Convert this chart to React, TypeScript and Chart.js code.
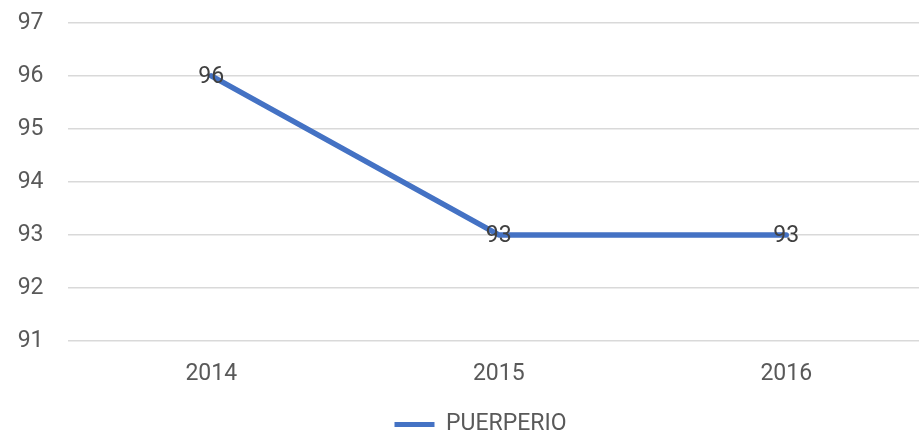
import React, { useEffect, useRef } from "react";
import { Chart, registerables } from "chart.js";

Chart.register(...registerables);

const categories = ["2014", "2015", "2016"];
const seriesLabel = "PUERPERIO";
const seriesValues = [96, 93, 93];
const yMin = 91;
const yMax = 97;

const FONT = "Roboto, 'Liberation Sans', sans-serif";

const dataLabelPlugin = {
  id: "dataLabels",
  afterDatasetsDraw(chart: any) {
    const ctx = chart.ctx;
    const meta = chart.getDatasetMeta(0);
    const ds = chart.data.datasets[0];
    ctx.save();
    ctx.font = `23px ${FONT}`;
    ctx.fillStyle = "#404040";
    ctx.textAlign = "center";
    ctx.textBaseline = "middle";
    meta.data.forEach((pt: any, i: number) => {
      ctx.fillText(String(ds.data[i]), pt.x, pt.y + 1);
    });
    ctx.restore();
  },
};

const legendShiftPlugin = {
  id: "legendShift",
  afterLayout(chart: any) {
    if (chart.legend) {
      chart.legend.left = 31;
    }
  },
};

export default function App() {
  const ref = useRef<HTMLCanvasElement | null>(null);
  useEffect(() => {
    document.body.style.margin = "0";
    const canvas = ref.current!;
    const chart = new Chart(canvas, {
      type: "line",
      data: {
        labels: categories,
        datasets: [
          {
            label: seriesLabel,
            data: seriesValues,
            borderColor: "#4472C4",
            backgroundColor: "#4472C4",
            borderWidth: 5.5,
            borderCapStyle: "round",
            borderJoinStyle: "round",
            pointRadius: 0,
            pointHoverRadius: 0,
            tension: 0,
          },
        ],
      },
      options: {
        responsive: false,
        animation: false,
        layout: { padding: { left: 0, right: 0, top: 7.5, bottom: 0 } },
        scales: {
          x: {
            offset: true,
            grid: { display: false, drawTicks: false },
            border: { display: false },
            ticks: {
              color: "#595959",
              font: { family: FONT, size: 23 },
              padding: 19,
              maxRotation: 0,
            },
            afterFit(scale: any) {
              scale.height = 72;
            },
          },
          y: {
            min: yMin,
            max: yMax,
            grid: { color: "#d9d9d9", lineWidth: 1.5, drawTicks: false },
            border: { display: false },
            ticks: {
              stepSize: 1,
              color: "#595959",
              font: { family: FONT, size: 23 },
              padding: 24,
            },
            afterFit(scale: any) {
              scale.width = 67.5;
            },
          },
        },
        plugins: {
          tooltip: { enabled: false },
          legend: {
            position: "bottom",
            labels: {
              color: "#595959",
              font: { family: FONT, size: 23 },
              boxWidth: 40,
              boxHeight: 5,
              padding: 0,
              generateLabels(c: any) {
                const items = (Chart.defaults.plugins.legend.labels as any).generateLabels(c);
                return items.map((it: any) => ({
                  ...it,
                  lineWidth: 0,
                  fillStyle: "#4472C4",
                  strokeStyle: "#4472C4",
                }));
              },
            },
          },
        },
      },
      plugins: [dataLabelPlugin, legendShiftPlugin],
    } as any);
    return () => chart.destroy();
  }, []);
  return (
    <div
      style={{
        position: "fixed",
        left: 0,
        top: 0,
        width: 919,
        height: 435,
        overflow: "hidden",
        background: "#fff",
      }}
    >
      <canvas
        ref={ref}
        width={930}
        height={461}
        style={{ display: "block", position: "absolute", left: 0, top: -15 }}
      />
    </div>
  );
}
